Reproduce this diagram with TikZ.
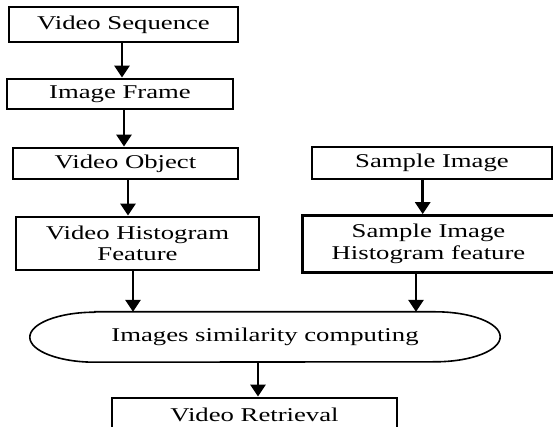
\documentclass[tikz,border=0pt]{standalone}
\usepackage{fontspec}
\setmainfont{Liberation Serif}[FakeStretch=1.37]
\usetikzlibrary{arrows.meta}

\begin{document}
\begin{tikzpicture}[x=1pt,y=1pt,
  font=\fontsize{19.5}{21.5}\selectfont,
  stepbox/.style={draw=black,line width=2.8pt,inner sep=0pt,align=center},
  flow/.style={line width=2.8pt,-{Triangle[width=15pt,length=12pt]}}]
\useasboundingbox (0,0) rectangle (553,427);

\node[stepbox,minimum width=229,minimum height=35] (seq) at (123.5,402.5) {Video Sequence};
\node[stepbox,minimum width=226,minimum height=30] (frame) at (120,333) {Image Frame};
\node[stepbox,minimum width=225,minimum height=31] (obj) at (125.5,263.5) {Video Object};
\node[stepbox,minimum width=243,minimum height=53] (vhf) at (137.5,183.5) {Video Histogram\\Feature};
\node[stepbox,minimum width=240,minimum height=32] (simg) at (432,264) {Sample Image};
\node[stepbox,minimum width=252,minimum height=57] (sihf) at (428.5,183) {Sample Image\\Histogram feature};
\node[minimum width=470,minimum height=50,inner sep=0pt] (sim) at (265,90) {Images similarity computing};
\node[stepbox,minimum width=285,minimum height=34] (vr) at (254.5,12) {Video Retrieval};

\draw[line width=1.6pt] ([xshift=65pt]sim.north west) -- ([xshift=-65pt]sim.north east)
  arc[start angle=90,end angle=-90,x radius=65pt,y radius=25pt]
  -- ([xshift=65pt]sim.south west)
  arc[start angle=270,end angle=90,x radius=65pt,y radius=25pt] -- cycle;

\draw[flow] ([xshift=-1.5pt]seq.south) -- ([xshift=-1.5pt]seq.south |- frame.north);
\draw[flow] ([xshift=4pt]frame.south) -- ([xshift=4pt]frame.south |- obj.north);
\draw[flow] ([xshift=2.5pt]obj.south) -- ([xshift=2.5pt]obj.south |- vhf.north);
\draw[flow] ([xshift=-9.3pt]simg.south) -- ([xshift=-9.3pt]simg.south |- sihf.north);
\draw[flow] ([xshift=-4.5pt]vhf.south) -- ([xshift=-4.5pt]vhf.south |- sim.north);
\draw[flow] ([xshift=-12.5pt]sihf.south) -- ([xshift=-12.5pt]sihf.south |- sim.north);
\draw[flow] ([xshift=-7pt]sim.south) -- ([xshift=-7pt]sim.south |- vr.north);
\end{tikzpicture}
\end{document}
